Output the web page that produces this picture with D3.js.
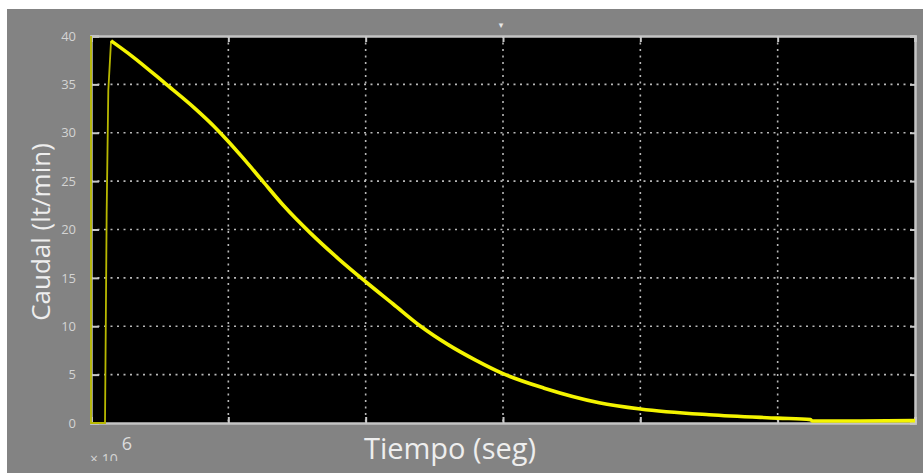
<!DOCTYPE html>
<html><head><meta charset="utf-8">
<script src="https://cdn.jsdelivr.net/npm/d3@7"></script>
<style>body{margin:0;background:#fff;} svg{display:block}</style>
</head><body><svg id="c" width="923" height="473"></svg>
<script>
// ---- data ----
const time   = [0, 0, 0.1, 0.102, 0.114, 0.126, 0.146, 0.3, 0.54, 0.75, 0.9, 1.0, 1.1, 1.25, 1.4, 1.6, 1.8, 2.0, 2.2, 2.4, 2.6, 2.8, 3.0, 3.3, 3.7, 4.0, 4.5, 5.0, 5.24, 5.25, 5.6, 6.0];
const caudal = [40, 0, 0, 0, 21.7, 34.4, 39.5, 37.9, 35.1, 32.6, 30.6, 29.1, 27.5, 25.0, 22.5, 19.6, 17.0, 14.6, 12.3, 10.0, 8.1, 6.5, 5.1, 3.6, 2.1, 1.45, 0.85, 0.5, 0.35, 0.22, 0.2, 0.25];
const peakIndex = 6;
const yTicks = [0, 5, 10, 15, 20, 25, 30, 35, 40];
const xTicks = [0, 1, 2, 3, 4, 5, 6];
const xLabel = "Tiempo (seg)";
const yLabel = "Caudal (lt/min)";
const xExponent = "6";

// ---- layout ----
const svg = d3.select("#c");
const L = 91, R = 915, T = 36, B = 423;
const x = d3.scaleLinear().domain([0, 6]).range([L, R]);
const y = d3.scaleLinear().domain([0, 40]).range([B, T]);

svg.append("rect").attr("x", 7).attr("y", 9).attr("width", 916).attr("height", 464).attr("fill", "#838383");
svg.append("rect").attr("x", L).attr("y", T).attr("width", R - L).attr("height", B - T).attr("fill", "#000");

// grid
const grid = svg.append("g").attr("stroke", "#b8b8b8").attr("stroke-width", 1.6).attr("stroke-dasharray", "2,4.5");
grid.selectAll("line.h").data(yTicks.slice(1, -1)).join("line")
  .attr("x1", L).attr("x2", R).attr("y1", d => y(d)).attr("y2", d => y(d));
grid.selectAll("line.v").data(xTicks.slice(1, -1)).join("line")
  .attr("x1", d => x(d)).attr("x2", d => x(d)).attr("y1", T).attr("y2", B);

// axes
const yAxis = d3.axisLeft(y).tickValues(yTicks).tickSize(-8).tickPadding(15);
const gy = svg.append("g").attr("transform", `translate(${L},0)`).call(yAxis);
const yAxisR = d3.axisRight(y).tickValues(yTicks).tickSize(-5).tickFormat("");
const gyr = svg.append("g").attr("transform", `translate(${R},0)`).call(yAxisR);
const xAxis = d3.axisBottom(x).tickValues(xTicks).tickSize(-6).tickFormat("");
const gx = svg.append("g").attr("transform", `translate(0,${B})`).call(xAxis);
const xAxisT = d3.axisTop(x).tickValues(xTicks).tickSize(-6).tickFormat("");
const gxt = svg.append("g").attr("transform", `translate(0,${T})`).call(xAxisT);
[gy, gyr, gx, gxt].forEach(g => {
  g.select(".domain").attr("stroke", "#c4c4c4").attr("stroke-width", 2.5);
  g.selectAll(".tick line").attr("stroke", "#c8c8c8").attr("stroke-width", 2);
});
gy.selectAll(".tick text").attr("fill", "#d4d4d4").attr("font-family", "'Open Sans', sans-serif").attr("font-size", 13);

// curve
const pts = time.map((t, i) => [t, caudal[i]]);
const line = d3.line().x(d => x(d[0])).y(d => y(d[1]));
svg.append("path").datum(pts.slice(0, peakIndex + 1)).attr("d", line)
  .attr("fill", "none").attr("stroke", "#b8b800").attr("stroke-width", 1.8);
svg.append("path").datum(pts.slice(peakIndex)).attr("d", line.curve(d3.curveMonotoneX))
  .attr("fill", "none").attr("stroke", "#f4f400").attr("stroke-width", 3.6).attr("stroke-linejoin", "round");

// labels
svg.append("text").attr("x", 450).attr("y", 459).attr("text-anchor", "middle")
  .attr("fill", "#eeeeee").attr("font-family", "'Open Sans', sans-serif").attr("font-size", 29).text(xLabel);
svg.append("text").attr("transform", "translate(50,232) rotate(-90)").attr("text-anchor", "middle")
  .attr("fill", "#eeeeee").attr("font-family", "'Open Sans', sans-serif").attr("font-size", 26).text(yLabel);

// exponent (partially clipped as in reference)
svg.append("clipPath").attr("id", "cp").append("rect").attr("x", 0).attr("y", 440).attr("width", 200).attr("height", 21);
svg.append("text").attr("x", 90).attr("y", 464).attr("clip-path", "url(#cp)")
  .attr("fill", "#d4d4d4").attr("font-family", "'Open Sans', sans-serif").attr("font-size", 14).text("\u00d7 10");
svg.append("text").attr("x", 127).attr("y", 450).attr("text-anchor", "middle")
  .attr("fill", "#dcdcdc").attr("font-family", "'Open Sans', sans-serif").attr("font-size", 18).text(xExponent);

// small marker above the plot
svg.append("text").attr("x", x(3) - 2).attr("y", 28).attr("text-anchor", "middle")
  .attr("fill", "#e6e6e6").attr("font-family", "'DejaVu Sans', sans-serif").attr("font-size", 9).text("\u25BE");
</script></body></html>
